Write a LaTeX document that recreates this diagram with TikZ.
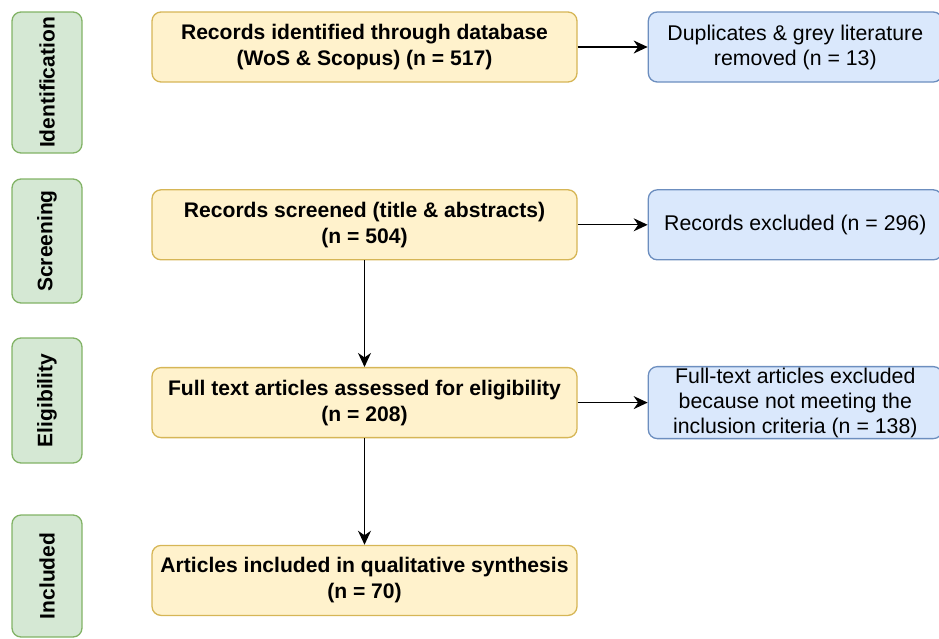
\documentclass[tikz,border=0pt]{standalone}
\usepackage{fontspec}
\setmainfont{Liberation Sans}
\usepackage{xcolor}
\usetikzlibrary{positioning, arrows.meta}

\definecolor{stepfill}{HTML}{FFF2CC}
\definecolor{stepline}{HTML}{D6B656}
\definecolor{outfill}{HTML}{DAE8FC}
\definecolor{outline}{HTML}{6C8EBF}
\definecolor{phasefill}{HTML}{D5E8D4}
\definecolor{phaseline}{HTML}{82B366}

\begin{document}
\begin{tikzpicture}[
    x=1pt, y=1pt,
    node distance=106.5pt and 70pt,
    stepbox/.style={rectangle, rounded corners=9pt, draw=stepline, fill=stepfill, line width=1.3pt, minimum width=425pt, minimum height=70pt, inner sep=0pt, align=center, font=\fontsize{21.1}{26}\selectfont\bfseries},
    outbox/.style={rectangle, rounded corners=9pt, draw=outline, fill=outfill, line width=1.3pt, minimum width=294pt, minimum height=70pt, inner sep=0pt, align=center, font=\fontsize{21.3}{25}\selectfont},
    phase/.style={rectangle, rounded corners=9pt, draw=phaseline, fill=phasefill, line width=1.3pt, minimum height=70pt, inner sep=0pt, rotate=90, font=\fontsize{21}{25}\selectfont\bfseries},
    arrow/.style={-{Stealth[length=14pt, width=13pt, inset=4.5pt]}, line width=1.3pt}
]
\useasboundingbox (0,0) rectangle (939,-638);

% PRISMA phases
\node[phase, minimum width=141pt] (p_ident) at (47,-82.5) {Identification};
\node[phase, minimum width=124pt] (p_screen) at (47,-241) {Screening};
\node[phase, minimum width=125pt] (p_elig) at (47,-400.5) {Eligibility};
\node[phase, minimum width=122pt] (p_incl) at (47,-576) {Included};

% Main flow
\node[stepbox] (ident) at (364.5,-47) {Records identified through database\\(WoS \& Scopus) (n = 517)};
\node[stepbox, below=of ident] (screen) {Records screened (title \& abstracts)\\(n = 504)};
\node[stepbox, below=of screen] (elig) {Full text articles assessed for eligibility\\(n = 208)};
\node[stepbox, below=of elig] (incl) {Articles included in qualitative synthesis\\(n = 70)};

% Removed records
\node[outbox, right=of ident] (dup) {Duplicates \& grey literature\\removed (n = 13)};
\node[outbox, right=of screen] (excl) {Records excluded (n = 296)};
\node[outbox, right=of elig, minimum height=72pt] (ftexcl) {Full-text articles excluded\\because not meeting the\\inclusion criteria (n = 138)};

% Arrows
\draw[arrow] (ident) -- (dup);
\draw[arrow] (screen) -- (excl);
\draw[arrow] (elig) -- (ftexcl);
\draw[arrow] (screen) -- (elig);
\draw[arrow] (elig) -- (incl);

\end{tikzpicture}
\end{document}
